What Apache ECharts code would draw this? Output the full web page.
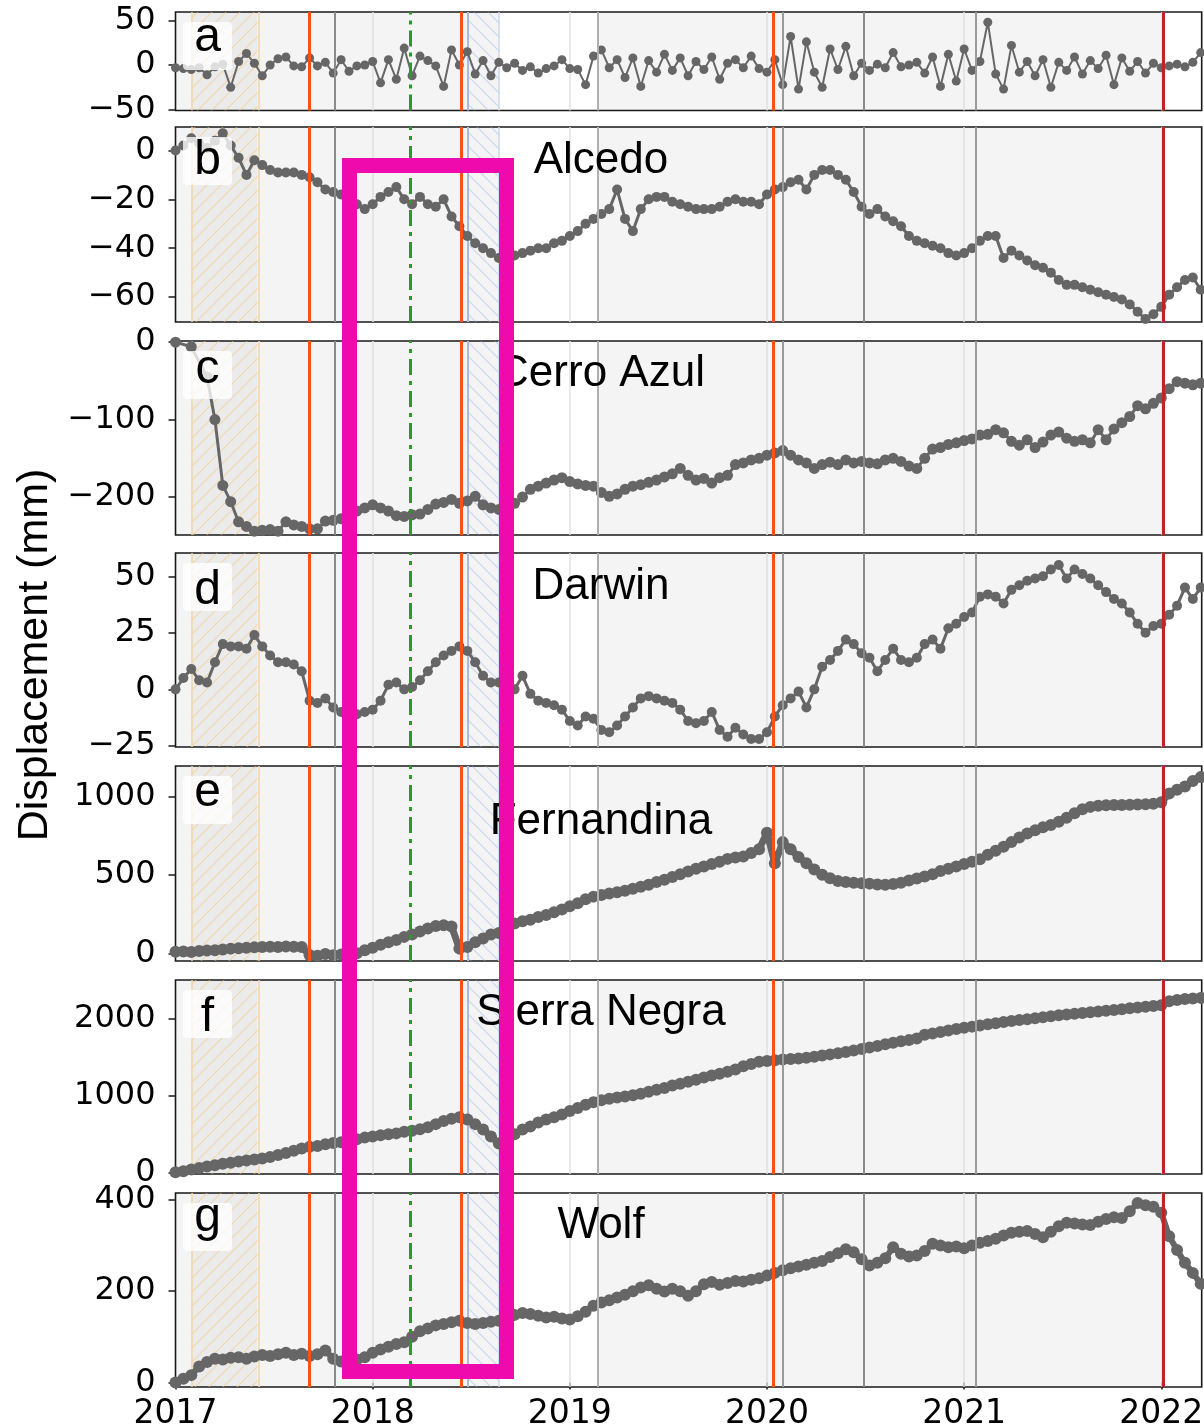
<!DOCTYPE html>
<html>
<head>
<meta charset="utf-8">
<title>Displacement time series</title>
<script src="https://cdn.jsdelivr.net/npm/echarts@6/dist/echarts.min.js"></script>
<style>
  html, body { margin: 0; padding: 0; background: #fff; }
  #chart { width: 1204px; height: 1428px; }
</style>
</head>
<body>
<div id="chart"></div>
<script>
// acquisition dates (decimal years)
var dates = [
  2017.00, 2017.04, 2017.08, 2017.12, 2017.16, 2017.20, 2017.24, 2017.28, 2017.32, 2017.36, 2017.40, 2017.44, 2017.48, 2017.52, 2017.56, 2017.60, 2017.64, 2017.68, 2017.72, 2017.76, 2017.80, 2017.84, 2017.88, 2017.92, 2017.96,
  2018.00, 2018.04, 2018.08, 2018.12, 2018.16, 2018.20, 2018.24, 2018.28, 2018.32, 2018.36, 2018.40, 2018.44, 2018.48, 2018.52, 2018.56, 2018.60, 2018.64, 2018.68, 2018.72, 2018.76, 2018.80, 2018.84, 2018.88, 2018.92, 2018.96,
  2019.00, 2019.04, 2019.08, 2019.12, 2019.16, 2019.20, 2019.24, 2019.28, 2019.32, 2019.36, 2019.40, 2019.44, 2019.48, 2019.52, 2019.56, 2019.60, 2019.64, 2019.68, 2019.72, 2019.76, 2019.80, 2019.84, 2019.88, 2019.92, 2019.96,
  2020.00, 2020.04, 2020.08, 2020.12, 2020.16, 2020.20, 2020.24, 2020.28, 2020.32, 2020.36, 2020.40, 2020.44, 2020.48, 2020.52, 2020.56, 2020.60, 2020.64, 2020.68, 2020.72, 2020.76, 2020.80, 2020.84, 2020.88, 2020.92, 2020.96,
  2021.00, 2021.04, 2021.08, 2021.12, 2021.16, 2021.20, 2021.24, 2021.28, 2021.32, 2021.36, 2021.40, 2021.44, 2021.48, 2021.52, 2021.56, 2021.60, 2021.64, 2021.68, 2021.72, 2021.76, 2021.80, 2021.84, 2021.88, 2021.92, 2021.96,
  2022.00, 2022.04, 2022.08, 2022.12, 2022.16, 2022.20
];

// displacement (mm), one array per panel
var valsA = [
  -3, -4, -5, -3, -11, -2, 1, -25, 4, 13, 2, -12, 0, 7, 9, -1, -2, 8, -1, 3, -9, 6, -7, -1, 0,
  4, -20, 6, -16, 19, -12, 10, 5, -1, -24, 17, 0, 15, -10, 5, -12, 3, -3, 2, -6, -2, -9, -4, -1, 6,
  -4, -5, -22, 10, 17, -3, 6, -14, 8, -24, 5, -8, 12, -6, 8, -12, 4, -5, 9, -16, 2, 6, -3, 10, -4,
  -8, 6, -22, 32, -27, 26, -8, -25, 18, -5, 21, -12, 2, -6, 1, -3, 14, -2, 0, 3, -9, 9, -24, 12, -18,
  18, -6, 4, 48, -10, -27, 22, -8, 4, -12, 6, -25, 3, -6, 9, -10, 5, -4, 11, -22, 8, -7, 4, -9, 2,
  -3, -1, 1, -2, 3, 14
];
var valsB = [
  0, 2, 5, 3, 1, 4, 7, 2, -3, -10, -4, -6, -8, -9, -9, -9, -10, -11, -13, -16, -17, -18, -20, -22, -24,
  -22, -19, -17, -15, -20, -22, -19, -22, -23, -20, -27, -31, -35, -38, -40, -42, -44, -44, -43, -42, -41, -40, -40, -38, -37,
  -35, -33, -30, -28, -26, -24, -16, -28, -33, -24, -20, -19, -19, -21, -22, -23, -24, -24, -24, -23, -21, -20, -21, -21, -22,
  -18, -16, -15, -13, -12, -16, -10, -8, -8, -10, -12, -17, -23, -26, -24, -27, -29, -31, -35, -37, -38, -39, -40, -42, -43,
  -42, -40, -37, -35, -35, -44, -41, -43, -45, -47, -48, -50, -53, -55, -55, -56, -57, -58, -59, -60, -61, -63, -66, -69, -67,
  -64, -59, -56, -53, -52, -57
];
var valsC = [
  0, null, -6, null, -45, -100, -185, -206, -232, -238, -244, -243, -242, -244, -232, -236, -238, -241, -241, -231, -230, -228, -224, -218, -214,
  -210, -214, -218, -224, -225, -223, -222, -216, -209, -207, -203, -208, -205, -199, -210, -214, -216, -212, -208, -200, -190, -186, -182, -178, -175,
  -180, -183, -185, -186, -194, -199, -196, -190, -186, -184, -181, -178, -174, -170, -163, -172, -178, -176, -182, -175, -172, -158, -156, -152, -150,
  -146, -143, -140, -146, -152, -156, -163, -158, -155, -158, -152, -156, -154, -156, -157, -152, -150, -154, -160, -163, -150, -138, -136, -132, -130,
  -127, -125, -120, -119, -113, -117, -128, -133, -126, -136, -129, -120, -116, -124, -128, -126, -130, -113, -126, -112, -104, -96, -82, -86, -79,
  -72, -60, -51, -53, -55, -53
];
var valsD = [
  0, 5, 9, 4, 3, 12, 20, 19, 19, 18, 24, 19, 15, 12, 12, 11, 8, -5, -6, -4, -8, -10, -12, -11, -10,
  -9, -5, 2, 3, 0, 1, 4, 8, 12, 15, 17, 19, 17, 12, 6, 3, 3, 2, 0, 6, -2, -5, -6, -7, -9,
  -14, -16, -12, -13, -18, -19, -16, -12, -8, -4, -3, -4, -5, -6, -9, -14, -15, -14, -10, -18, -21, -17, -20, -22, -22,
  -19, -12, -7, -4, -1, -8, 0, 10, 13, 17, 22, 20, 16, 14, 8, 13, 18, 13, 12, 14, 20, 22, 18, 27, 29,
  32, 34, 41, 42, 41, 38, 44, 46, 48, 49, 50, 53, 55, 49, 53, 51, 49, 46, 43, 40, 38, 34, 29, 25, 28,
  29, 33, 37, 45, 40, 45
];
var valsE = [
  10, 12, 8, 15, 18, 20, 25, 30, 32, 35, 38, 40, 42, 40, 44, 42, 40, -10, -15, -5, -12, -8, -20, 0, 20,
  35, 55, 70, 85, 105, 120, 140, 158, 175, 180, 172, 30, 40, 70, 95, 120, 130, 160, 190, 205, 215, 232, 245, 262, 280,
  300, 320, 345, 362, 372, 382, 390, 400, 412, 425, 438, 455, 470, 488, 505, 522, 540, 555, 570, 585, 603, 612, 618, 640, 665,
  770, 575, 710, 665, 615, 575, 535, 502, 480, 462, 455, 450, 447, 445, 440, 438, 442, 450, 465, 478, 490, 505, 525, 540, 555,
  570, 585, 600, 630, 655, 680, 710, 740, 765, 785, 805, 820, 840, 865, 895, 920, 935, 942, 945, 947, 947, 948, 950, 952, 955,
  965, 1020, 1045, 1065, 1100, 1125
];
var valsF = [
  5, 20, 40, 60, 80, 95, 115, 130, 145, 158, 170, 185, 205, 230, 255, 285, 315, 335, 345, 370, 385, 395, 410, 435, 455,
  470, 485, 500, 510, 530, 545, 565, 590, 630, 670, 700, 720, 690, 630, 560, 470, 380, 430, 500, 560, 600, 650, 690, 720, 755,
  800, 840, 880, 915, 940, 960, 975, 990, 1005, 1025, 1050, 1075, 1100, 1130, 1155, 1180, 1205, 1235, 1260, 1285, 1310, 1340, 1380, 1410, 1440,
  1450, 1460, 1468, 1475, 1482, 1490, 1505, 1520, 1535, 1550, 1565, 1585, 1605, 1625, 1645, 1665, 1685, 1705, 1720, 1740, 1790, 1805, 1825, 1845, 1865,
  1880, 1895, 1910, 1925, 1940, 1955, 1968, 1980, 1992, 2005, 2018, 2030, 2042, 2052, 2062, 2072, 2082, 2092, 2102, 2112, 2122, 2132, 2142, 2152, 2162,
  2172, 2225, 2240, 2252, 2260, 2268
];
var valsG = [
  0, 8, 16, 35, 45, 52, 50, 54, 55, 52, 57, 60, 58, 62, 65, 60, 63, 58, 62, 70, 52, 46, 45, 50, 55,
  65, 72, 78, 84, 88, 100, 112, 118, 125, 128, 132, 135, 130, 128, 130, 133, 135, 140, 148, 152, 150, 146, 142, 144, 140,
  138, 145, 155, 168, 175, 180, 186, 192, 200, 208, 213, 205, 199, 205, 200, 190, 200, 215, 220, 214, 218, 222, 221, 225, 228,
  234, 240, 246, 250, 254, 258, 262, 266, 275, 283, 292, 285, 270, 256, 262, 272, 296, 282, 276, 278, 288, 304, 300, 296, 298,
  294, 300, 306, 310, 315, 322, 328, 330, 332, 325, 318, 330, 342, 350, 348, 346, 345, 352, 358, 362, 360, 375, 393, 388, 385,
  372, 320, 290, 262, 240, 216
];

// tick labels
var yearTicks = [2017, 2018, 2019, 2020, 2021, 2022];
var ticksA = [-50, 0, 50];
var ticksB = [-60, -40, -20, 0];
var ticksC = [-200, -100, 0];
var ticksD = [-25, 0, 25, 50];
var ticksE = [0, 500, 1000];
var ticksF = [0, 1000, 2000];
var ticksG = [0, 200, 400];

var letters = ['a', 'b', 'c', 'd', 'e', 'f', 'g'];
var titles = ['', 'Alcedo', 'Cerro Azul', 'Darwin', 'Fernandina', 'Sierra Negra', 'Wolf'];

// event dates
var eruptionDates = [2017.676, 2018.455, 2020.027];
var lastEruption = [2022.01];
var minorEvents = [2017.81, 2019.14, 2020.078, 2020.49, 2021.06];
var quakeDate = [2018.19];
var shadedSpans = [[2017.0, 2018.643], [2019.14, 2022.01]];
var yellowSpan = [2017.082, 2017.416];
var blueSpan = [2018.478, 2018.643];

// panel layout
var panels = [
  {vals: valsA, ticks: ticksA, min: -51, max: 59.5, top: 12, height: 98.5, dot: 9, lw: 2, letterY: 38, titleY: 0},
  {vals: valsB, ticks: ticksB, min: -70.2, max: 9.6, top: 127, height: 195, dot: 10, lw: 3, letterY: 161, titleY: 161},
  {vals: valsC, ticks: ticksC, min: -249, max: 1.5, top: 341, height: 194, dot: 11, lw: 3, letterY: 370, titleY: 374},
  {vals: valsD, ticks: ticksD, min: -25.5, max: 60.3, top: 553, height: 194, dot: 10, lw: 3, letterY: 591, titleY: 587},
  {vals: valsE, ticks: ticksE, min: -49, max: 1196, top: 766, height: 195, dot: 12, lw: 7, letterY: 793, titleY: 822},
  {vals: valsF, ticks: ticksF, min: -17, max: 2500, top: 980, height: 194, dot: 12, lw: 7, letterY: 1018, titleY: 1013},
  {vals: valsG, ticks: ticksG, min: -10, max: 415, top: 1193, height: 194, dot: 12, lw: 6, letterY: 1218, titleY: 1226}
];

// diagonal hatch fill
function hatch(lineColor, back, slash) {
  var s = 14;
  var c = document.createElement('canvas');
  c.width = s;
  c.height = s;
  var ctx = c.getContext('2d');
  ctx.fillStyle = back;
  ctx.fillRect(0, 0, s, s);
  ctx.strokeStyle = lineColor;
  ctx.lineWidth = 1.2;
  ctx.beginPath();
  if (slash) {
    ctx.moveTo(0, s); ctx.lineTo(s, 0);
    ctx.moveTo(-2, 2); ctx.lineTo(2, -2);
    ctx.moveTo(s - 2, s + 2); ctx.lineTo(s + 2, s - 2);
  } else {
    ctx.moveTo(0, 0); ctx.lineTo(s, s);
    ctx.moveTo(s - 2, -2); ctx.lineTo(s + 2, 2);
    ctx.moveTo(-2, s - 2); ctx.lineTo(2, s + 2);
  }
  ctx.stroke();
  return {image: c, repeat: 'repeat'};
}

var minus = function (v) {
  return String(v).replace('-', '\u2212');
};

var areaData = [];
shadedSpans.forEach(function (s) {
  areaData.push([{xAxis: s[0], itemStyle: {color: 'rgba(0,0,0,0.045)'}}, {xAxis: s[1]}]);
});
areaData.push([{xAxis: yellowSpan[0], itemStyle: {color: hatch('rgba(240,200,125,0.55)', 'rgba(0,0,0,0.035)', true)}}, {xAxis: yellowSpan[1]}]);
areaData.push([{xAxis: blueSpan[0], itemStyle: {color: hatch('rgba(150,180,230,0.45)', 'rgba(0,0,0,0)', false)}}, {xAxis: blueSpan[1]}]);

// light lines under the data
var gridLines = [];
yearTicks.slice(1).forEach(function (y) {
  gridLines.push({xAxis: y, lineStyle: {color: '#e0e0e0', width: 1.5, type: 'solid'}});
});
gridLines.push({xAxis: yellowSpan[0], lineStyle: {color: '#f3d6a2', width: 1.5, type: 'solid'}});
gridLines.push({xAxis: yellowSpan[1], lineStyle: {color: '#f3d6a2', width: 1.5, type: 'solid'}});
gridLines.push({xAxis: blueSpan[0], lineStyle: {color: '#a9badc', width: 2, type: 'solid'}});
gridLines.push({xAxis: blueSpan[1], lineStyle: {color: '#cbd8f2', width: 1.5, type: 'solid'}});

// event lines over the data
var minorColors = ['#8a8a8a', '#b0b0b0', '#9a9a9a', '#8a8a8a', '#9a9a9a'];
var eventLines = [];
minorEvents.forEach(function (d, i) {
  eventLines.push({xAxis: d, lineStyle: {color: minorColors[i], width: 2, type: 'solid'}});
});
eruptionDates.forEach(function (d) {
  eventLines.push({xAxis: d, lineStyle: {color: '#ff5014', width: 3, type: 'solid'}});
});
lastEruption.forEach(function (d) {
  eventLines.push({xAxis: d, lineStyle: {color: '#c4222b', width: 3, type: 'solid'}});
});
quakeDate.forEach(function (d) {
  eventLines.push({xAxis: d, lineStyle: {color: '#2a9a2a', width: 3, type: [16, 6, 4, 6]}});
});

var grids = [], xAxes = [], yAxes = [], series = [];
var graphics = [];

panels.forEach(function (p, k) {
  var last = k === panels.length - 1;
  grids.push({
    left: 175.5, width: 1026.2, top: p.top, height: p.height,
    show: true, backgroundColor: '#fff', borderColor: '#1a1a1a', borderWidth: 1.6,
    containLabel: false, outerBoundsMode: 'none'
  });
  xAxes.push({
    gridIndex: k, type: 'value', min: 2017, max: 2022.205,
    axisLine: {show: false},
    splitLine: {show: false},
    axisTick: {show: last, customValues: yearTicks, length: 7, lineStyle: {color: '#1a1a1a', width: 1.5}},
    axisLabel: {
      show: last, customValues: yearTicks, margin: 11, fontSize: 33,
      fontFamily: 'DejaVu Sans', color: '#000',
      formatter: function (v) { return String(v); }
    }
  });
  yAxes.push({
    gridIndex: k, type: 'value', min: p.min, max: p.max,
    axisLine: {show: false},
    splitLine: {show: false},
    axisTick: {show: true, customValues: p.ticks, length: 7, lineStyle: {color: '#1a1a1a', width: 1.5}},
    axisLabel: {
      customValues: p.ticks, margin: 20, fontSize: 32,
      fontFamily: 'DejaVu Sans', color: '#000', formatter: minus
    }
  });

  // shading + light gridlines
  series.push({
    type: 'line', xAxisIndex: k, yAxisIndex: k, data: [], silent: true, z: 1,
    animation: false,
    markArea: {silent: true, z: 1, animation: false, data: areaData},
    markLine: {silent: true, z: 2, symbol: ['none', 'none'], label: {show: false}, animation: false, data: gridLines}
  });

  var pts = [];
  dates.forEach(function (d, i) {
    if (p.vals[i] !== null) {
      pts.push([d, p.vals[i]]);
    }
  });

  series.push({
    type: 'line', xAxisIndex: k, yAxisIndex: k, z: 3,
    data: pts,
    symbol: 'circle', symbolSize: p.dot, showSymbol: true, showAllSymbol: true,
    itemStyle: {color: '#666666'},
    lineStyle: {color: '#666666', width: p.lw},
    emphasis: {disabled: true},
    animation: false, clip: true,
    markLine: {silent: true, z: 4, symbol: ['none', 'none'], label: {show: false}, animation: false, data: eventLines}
  });

  // panel letter in a white box
  graphics.push({
    type: 'rect', z: 50,
    shape: {x: 183, y: p.top + 10, width: 49, height: 48, r: 4},
    style: {fill: 'rgba(255,255,255,0.78)'}
  });
  graphics.push({
    type: 'text', z: 51, x: 207.5, y: p.letterY,
    style: {
      text: letters[k], fontSize: 48, fontFamily: 'Liberation Sans, Arial, sans-serif', fill: '#000',
      align: 'center', verticalAlign: 'middle', textAlign: 'center', textVerticalAlign: 'middle'
    }
  });
  if (titles[k]) {
    graphics.push({
      type: 'text', z: 51, x: 601, y: p.titleY,
      style: {
        text: titles[k], fontSize: 44, fontFamily: 'Liberation Sans, Arial, sans-serif', fill: '#000',
        align: 'center', verticalAlign: 'middle', textAlign: 'center', textVerticalAlign: 'middle'
      }
    });
  }
});

// shared y label
graphics.push({
  type: 'text', z: 51, x: 35, y: 655, rotation: Math.PI / 2,
  style: {
    text: 'Displacement (mm)', fontSize: 43, fontFamily: 'Liberation Sans, Arial, sans-serif', fill: '#000',
    align: 'center', verticalAlign: 'middle', textAlign: 'center', textVerticalAlign: 'middle'
  }
});

// highlight frame
graphics.push({
  type: 'rect', z: 100,
  shape: {x: 349.5, y: 165.5, width: 157, height: 1206},
  style: {fill: 'rgba(0,0,0,0)', stroke: '#ee0aad', lineWidth: 15}
});

var myChart = echarts.init(document.getElementById('chart'));
myChart.setOption({
  backgroundColor: '#fff',
  animation: false,
  grid: grids,
  xAxis: xAxes,
  yAxis: yAxes,
  series: series,
  graphic: {elements: graphics}
});
</script>
</body>
</html>
